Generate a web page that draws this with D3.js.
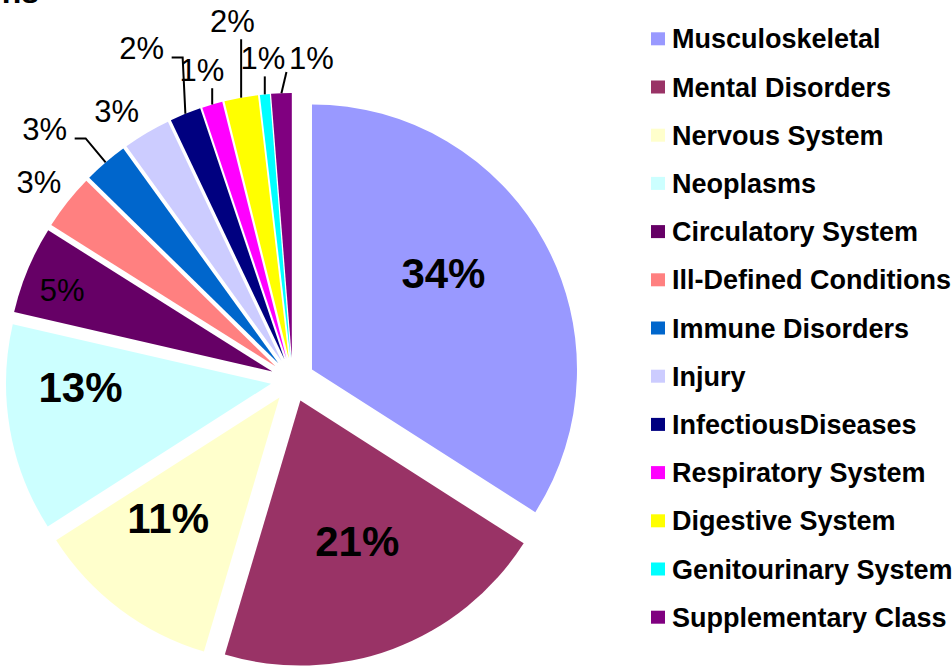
<!DOCTYPE html>
<html>
<head>
<meta charset="utf-8">
<script src="https://cdn.jsdelivr.net/npm/d3@7"></script>
<style>
  html, body { margin: 0; padding: 0; background: #fff; }
  svg { display: block; }
  text { font-family: "Liberation Sans", Arial, sans-serif; }
</style>
</head>
<body>
<svg id="chart" width="952" height="668"></svg>
<script>
// ---- data ----
const categories = [
  "Musculoskeletal", "Mental Disorders", "Nervous System", "Neoplasms",
  "Circulatory System", "Ill-Defined Conditions", "Immune Disorders", "Injury",
  "InfectiousDiseases", "Respiratory System", "Digestive System",
  "Genitourinary System", "Supplementary Class"
];
const values = [34.05, 20.55, 11.35, 12.65, 5.35, 3.4, 2.7, 2.9, 1.9, 1.25, 2.05, 0.6, 1.25];
const colors = [
  "#9999FF", "#993366", "#FFFFCC", "#CCFFFF", "#660066", "#FF8080", "#0066CC",
  "#CCCCFF", "#000080", "#FF00FF", "#FFFF00", "#00FFFF", "#800080"
];
const titleText = "ns";

// ---- label layout tweaks (relative to default label spot) ----
const labelNudges = [
  [-8, -20.5], [1.4, -9], [-15.6, -6.8], [-33.9, -23.7], [-63.5, -20.9],
  [-5.2, -1.6], [-41.4, -10.7], [-14.8, 3.4], [-32.5, -38], [-1.9, -6],
  [-3.3, -47.4], [1.1, -6.6], [31.2, -5.2]
];
const leaderTypes = [null, null, null, null, null, null, "elbow", null, "elbow", "v", "v", "v", "free"];

// ---- geometry ----
const W = 952, H = 668;
const cx = 292.7, cy = 380, R = 265, explode = 22;
const svg = d3.select("#chart");

const total = d3.sum(values);
const pie = d3.pie().sort(null).value(d => d).startAngle(0).endAngle(2 * Math.PI);
const arcs = pie(values);
const arcGen = d3.arc().innerRadius(0).outerRadius(R);
const pct = d3.format(".0%");

const g = svg.append("g").attr("transform", `translate(${cx},${cy})`);

function dir(a) { return [Math.sin(a), -Math.cos(a)]; }

arcs.forEach((a, i) => {
  const mid = (a.startAngle + a.endAngle) / 2;
  const [ux, uy] = dir(mid);
  g.append("path")
    .attr("d", arcGen(a))
    .attr("transform", `translate(${ux * explode},${uy * explode})`)
    .attr("fill", colors[i]);
});

// labels
arcs.forEach((a, i) => {
  const share = a.data / total;
  const big = share >= 0.1;
  const inside = i <= 4;
  const mid = (a.startAngle + a.endAngle) / 2;
  const [ux, uy] = dir(mid);
  const apx = ux * explode, apy = uy * explode;
  const rho = inside ? 0.6 * R : R + 30;
  const lx = apx + ux * rho + labelNudges[i][0];
  const ly = apy + uy * rho + labelNudges[i][1];
  const fs = big ? 42 : 31;
  g.append("text")
    .attr("x", lx)
    .attr("y", ly + 0.358 * fs)
    .attr("text-anchor", "middle")
    .attr("font-size", fs)
    .attr("font-weight", big ? "bold" : "normal")
    .attr("fill", "#000")
    .text(pct(share));

  const t = leaderTypes[i];
  if (t) {
    const mx = apx + ux * R, my = apy + uy * R;
    let pts;
    if (t === "elbow") {
      pts = [[mx, my], [lx + 41, ly + 9.5], [lx + 30, ly + 9.5]];
    } else if (t === "v") {
      pts = [[mx, my], [mx, ly + 18.5]];
    } else {
      pts = [[mx, my], [lx - 25, ly + 14]];
    }
    g.append("path")
      .attr("d", d3.line()(pts))
      .attr("fill", "none")
      .attr("stroke", "#000")
      .attr("stroke-width", 2);
  }
});

// title fragment (cut off at top)
svg.append("text")
  .attr("x", 39).attr("y", 3)
  .attr("text-anchor", "end")
  .attr("font-size", 32)
  .attr("font-weight", "bold")
  .attr("fill", "#000")
  .text(titleText);

// legend
const legend = svg.append("g");
categories.forEach((c, i) => {
  const base = 48.3 + i * 48.2;
  legend.append("rect")
    .attr("x", 651).attr("y", base - 16)
    .attr("width", 14).attr("height", 13)
    .attr("fill", colors[i]);
  legend.append("text")
    .attr("x", 672).attr("y", base)
    .attr("font-size", 27)
    .attr("font-weight", "bold")
    .attr("fill", "#000")
    .text(c);
});
</script>
</body>
</html>
